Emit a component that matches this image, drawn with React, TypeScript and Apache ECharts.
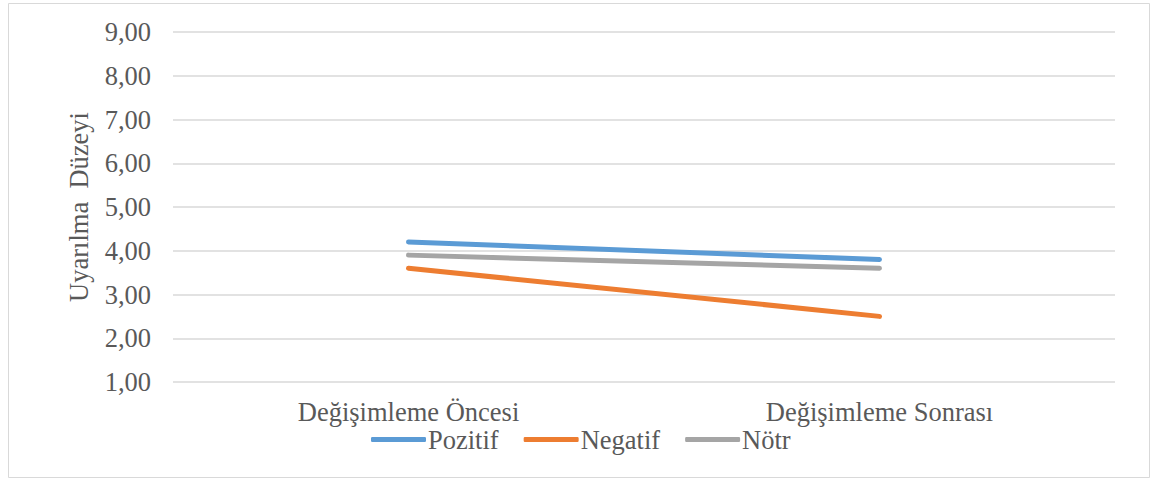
import React, { useEffect, useRef } from "react";
import * as echarts from "echarts";

const categories = ["Değişimleme Öncesi", "Değişimleme Sonrası"];
const seriesNames = ["Pozitif", "Negatif", "Nötr"];
const pozitif = [4.2, 3.8];
const negatif = [3.6, 2.5];
const notr = [3.9, 3.6];
const seriesColors = ["#5B9BD5", "#ED7D31", "#A5A5A5"];
const yTitle = "Uyarılma  Düzeyi";

const FONT = "'Liberation Serif', 'Times New Roman', serif";
const TEXT_COLOR = "#595959";
const FS = 26.5;

export default function App() {
  const ref = useRef<HTMLDivElement>(null);
  useEffect(() => {
    if (!ref.current) return;
    const chart = echarts.init(ref.current, undefined, { renderer: "svg" });
    const values = [pozitif, negatif, notr];
    chart.setOption({
      animation: false,
      backgroundColor: "#ffffff",
      textStyle: { fontFamily: FONT },
      graphic: [
        {
          type: "rect",
          shape: { x: 8.5, y: 3.5, width: 1141, height: 474 },
          style: { fill: "none", stroke: "#d9d9d9", lineWidth: 1 },
          silent: true,
        },
      ],
      grid: { left: 173, right: 37, top: 32, height: 350, containLabel: false },
      legend: {
        data: seriesNames,
        left: 366,
        top: 421,
        itemWidth: 55,
        itemHeight: 5,
        itemGap: 25,
        icon: "roundRect",
        textStyle: { fontFamily: FONT, fontSize: FS, color: TEXT_COLOR, padding: [0, 0, 0, -3] },
      },
      xAxis: {
        type: "category",
        data: categories,
        boundaryGap: true,
        axisLine: { show: false },
        axisTick: { show: false },
        axisLabel: { fontFamily: FONT, fontSize: FS, color: TEXT_COLOR, margin: 16 },
      },
      yAxis: {
        type: "value",
        min: 1,
        max: 9,
        interval: 1,
        name: yTitle,
        nameLocation: "middle",
        nameRotate: 90,
        nameGap: 81,
        nameTextStyle: { fontFamily: FONT, fontSize: FS, color: TEXT_COLOR },
        axisLine: { show: false },
        axisTick: { show: false },
        axisLabel: {
          fontFamily: FONT,
          fontSize: FS,
          color: TEXT_COLOR,
          margin: 22,
          formatter: (v: number) => v.toFixed(2).replace(".", ","),
        },
        splitLine: { lineStyle: { color: "#d9d9d9", width: 1.5 } },
      },
      series: seriesNames.map((name, i) => ({
        name,
        type: "line",
        data: values[i],
        showSymbol: false,
        symbol: "none",
        color: seriesColors[i],
        lineStyle: { width: 5, color: seriesColors[i], cap: "round" },
      })),
    });
    return () => chart.dispose();
  }, []);
  return (
    <div
      ref={ref}
      style={{ position: "absolute", left: 0, top: 0, width: 1152, height: 480 }}
    />
  );
}
